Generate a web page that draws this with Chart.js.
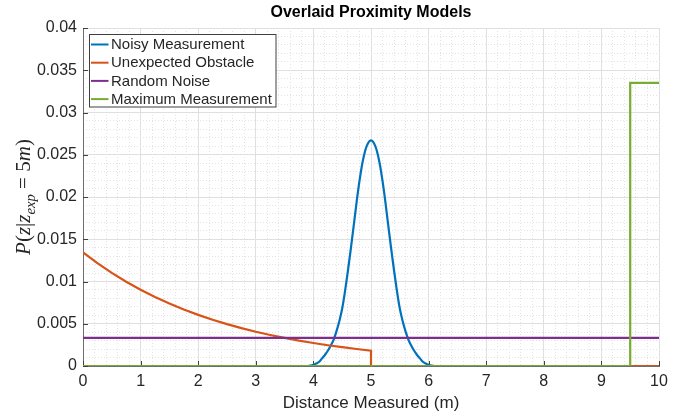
<!DOCTYPE html>
<html>
<head>
<meta charset="utf-8">
<script src="https://cdn.jsdelivr.net/npm/chart.js@4.4.1/dist/chart.umd.min.js"></script>
<style>
  html, body { margin: 0; padding: 0; background: #fff; }
  #wrap { position: relative; width: 694px; height: 417px; }
</style>
</head>
<body>
<div id="wrap"><canvas id="chart"></canvas></div>
<script>
// values
const chartTitle = 'Overlaid Proximity Models';
const seriesNames = ['Noisy Measurement', 'Unexpected Obstacle', 'Random Noise', 'Maximum Measurement'];
const seriesColors = ['#0072BD', '#D95319', '#7E2F8E', '#77AC30'];

const noisyX = [0, 3.85, 3.9, 3.95, 4.0, 4.05, 4.1, 4.15, 4.2, 4.25, 4.3, 4.35, 4.4, 4.45, 4.5,
  4.55, 4.6, 4.65, 4.7, 4.75, 4.8, 4.85, 4.9, 4.95, 5.0,
  5.05, 5.1, 5.15, 5.2, 5.25, 5.3, 5.35, 5.4, 5.45, 5.5,
  5.55, 5.6, 5.65, 5.7, 5.75, 5.8, 5.85, 5.9, 5.95, 6.0, 6.05, 6.1, 6.15, 10];
const noisyY = [0, 0, 0, 0.00005, 0.00015, 0.0003, 0.0005, 0.0009, 0.0013, 0.0018, 0.0024, 0.0031, 0.0041, 0.0053, 0.0068,
  0.0089, 0.0113, 0.0139, 0.0166, 0.0194, 0.0219, 0.024, 0.0255, 0.0264, 0.0267,
  0.0264, 0.0255, 0.024, 0.0219, 0.0194, 0.0166, 0.0139, 0.0113, 0.0089, 0.0068,
  0.0053, 0.0041, 0.0031, 0.0024, 0.0018, 0.0013, 0.0009, 0.0005, 0.0003, 0.00015, 0.00005, 0, 0, 0];

const obstacleX = [0, 0.25, 0.5, 0.75, 1, 1.25, 1.5, 1.75, 2, 2.25, 2.5, 2.75, 3, 3.25, 3.5, 3.75,
  4, 4.25, 4.5, 4.75, 5, 5, 10];
const obstacleY = [0.01346, 0.01218, 0.01102, 0.00997, 0.00902, 0.00816, 0.00739, 0.00668, 0.00605, 0.00547,
  0.00495, 0.00448, 0.00405, 0.00367, 0.00332, 0.003, 0.00272, 0.00246, 0.00223, 0.00201, 0.00182, 0, 0];

const noiseX = [0, 10];
const noiseY = [0.00333, 0.00333];

const maxX = [0, 9.5, 9.5, 10];
const maxY = [0, 0, 0.0335, 0.0335];

const xTickStep = 1;
const yTickStep = 0.005;

const FONT = '"Liberation Sans", Arial, Helvetica, sans-serif';
const TEXT = '#262626';

function pts(xs, ys) {
    return xs.map((x, i) => ({ x: x, y: ys[i] }));
}

const seriesData = [pts(noisyX, noisyY), pts(obstacleX, obstacleY), pts(noiseX, noiseY), pts(maxX, maxY)];

// title centred over the plot area
const plotTitle = {
    id: 'plotTitle',
    afterDraw(chart) {
        const { ctx, chartArea } = chart;
        ctx.save();
        ctx.font = 'bold 16px ' + FONT;
        ctx.fillStyle = '#000';
        ctx.textAlign = 'center';
        ctx.textBaseline = 'middle';
        ctx.fillText(chartTitle, (chartArea.left + chartArea.right) / 2, 12.5);
        ctx.restore();
    }
};

// small inward tick marks like the original axes
const innerTicks = {
    id: 'innerTicks',
    beforeDatasetsDraw(chart) {
        const { ctx, chartArea } = chart;
        const xs = chart.scales.x, ys = chart.scales.y;
        ctx.save();
        ctx.strokeStyle = '#404040';
        ctx.lineWidth = 1;
        ctx.beginPath();
        xs.ticks.forEach(t => {
            const px = Math.round(xs.getPixelForValue(t.value)) + 0.5;
            ctx.moveTo(px, chartArea.bottom);
            ctx.lineTo(px, chartArea.bottom - 5);
        });
        ys.ticks.forEach(t => {
            const py = Math.round(ys.getPixelForValue(t.value)) + 0.5;
            ctx.moveTo(chartArea.left, py);
            ctx.lineTo(chartArea.left + 5, py);
        });
        ctx.stroke();
        ctx.restore();
    }
};

// y axis label with a subscript
const yLabel = {
    id: 'yLabel',
    afterDraw(chart) {
        const { ctx, chartArea } = chart;
        const size = 21;
        const parts = [
            { t: 'P', it: true }, { t: '(', it: false }, { t: 'z', it: true }, { t: '|', it: false },
            { t: 'z', it: true }, { t: 'exp', it: true, sub: true }, { t: ' = ', it: false },
            { t: '5', it: false }, { t: 'm', it: true }, { t: ')', it: false }
        ];
        const fontFor = p => (p.it ? 'italic ' : '') + (p.sub ? size * 0.7 : size) + 'px "Liberation Serif", "DejaVu Serif", serif';
        ctx.save();
        let total = 0;
        parts.forEach(p => { ctx.font = fontFor(p); p.w = ctx.measureText(p.t).width; total += p.w; });
        ctx.translate(30, (chartArea.top + chartArea.bottom) / 2);
        ctx.rotate(-Math.PI / 2);
        ctx.fillStyle = TEXT;
        ctx.textBaseline = 'alphabetic';
        let x = -total / 2;
        parts.forEach(p => {
            ctx.font = fontFor(p);
            ctx.fillText(p.t, x, p.sub ? size * 0.25 : 0);
            x += p.w;
        });
        ctx.restore();
    }
};

// boxed legend in the top left corner of the plot
const boxLegend = {
    id: 'boxLegend',
    afterDraw(chart) {
        const ctx = chart.ctx;
        ctx.save();
        ctx.fillStyle = '#fff';
        ctx.fillRect(89.5, 34.5, 186.5, 72.5);
        ctx.strokeStyle = '#404040';
        ctx.lineWidth = 1;
        ctx.strokeRect(89.5, 34.5, 186.5, 72.5);
        ctx.font = '15px ' + FONT;
        ctx.textBaseline = 'middle';
        chart.data.datasets.forEach((ds, i) => {
            const y = 44.5 + i * 18.2;
            ctx.strokeStyle = ds.borderColor;
            ctx.lineWidth = 2;
            ctx.beginPath();
            ctx.moveTo(91, y);
            ctx.lineTo(108.5, y);
            ctx.stroke();
            ctx.fillStyle = TEXT;
            ctx.fillText(ds.label, 111, y + 0.5);
        });
        ctx.restore();
    }
};

Chart.defaults.font.family = FONT;

new Chart(document.getElementById('chart'), {
    type: 'line',
    data: {
        datasets: seriesNames.map((name, i) => ({
            label: name,
            data: seriesData[i],
            borderColor: seriesColors[i],
            backgroundColor: seriesColors[i],
            borderWidth: 2.2,
            pointRadius: 0,
            fill: false,
            order: 4 - i,
            cubicInterpolationMode: i === 0 ? 'monotone' : 'default',
            tension: 0
        }))
    },
    options: {
        responsive: true,
        maintainAspectRatio: false,
        animation: false,
        layout: { padding: { left: 0, right: 35, top: 28, bottom: 0 } },
        plugins: {
            legend: { display: false },
            tooltip: { enabled: false },
            title: { display: false }
        },
        scales: {
            x: {
                type: 'linear',
                position: 'bottom',
                min: 0,
                max: 10,
                ticks: { stepSize: xTickStep, color: TEXT, font: { size: 16 }, padding: 6, maxRotation: 0, autoSkip: false },
                grid: { color: '#dedede', drawTicks: false },
                border: { display: true, color: '#6e6e6e', width: 1 },
                title: { display: true, text: 'Distance Measured (m)', color: TEXT, font: { size: 17 }, padding: { top: 0, bottom: 3 } },
                afterFit: s => { s.height = 51; }
            },
            xMinor: {
                type: 'linear',
                position: 'bottom',
                min: 0,
                max: 10,
                ticks: { display: false, stepSize: 0.2 },
                grid: { color: '#e3e3e3', drawTicks: false },
                border: { display: false, dash: [1, 2] },
                afterFit: s => { s.height = 0; }
            },
            y: {
                position: 'left',
                min: 0,
                max: 0.04,
                ticks: { stepSize: yTickStep, color: TEXT, font: { size: 16 }, padding: 6, callback: v => String(+v.toFixed(3)) },
                grid: { color: '#dedede', drawTicks: false },
                border: { display: true, color: '#6e6e6e', width: 1 },
                afterFit: s => { s.width = 83; }
            },
            yMinor: {
                position: 'left',
                min: 0,
                max: 0.04,
                ticks: { display: false, stepSize: 0.001 },
                grid: { color: '#e3e3e3', drawTicks: false },
                border: { display: false, dash: [1, 2] },
                afterFit: s => { s.width = 0; }
            }
        }
    },
    plugins: [innerTicks, yLabel, boxLegend, plotTitle]
});
</script>
</body>
</html>
